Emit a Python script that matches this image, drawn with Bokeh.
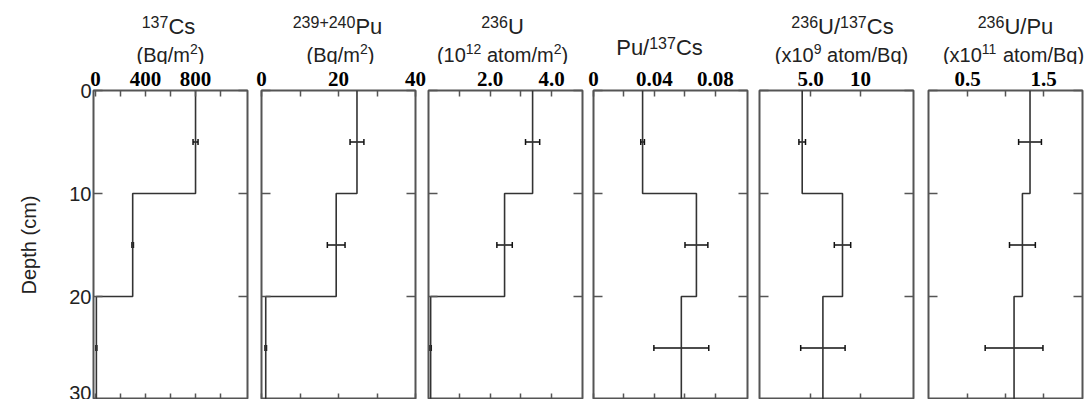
from bokeh.plotting import figure
from bokeh.layouts import row, column
from bokeh.models import (Range1d, FixedTicker, LinearAxis, Whisker,
                          ColumnDataSource, TeeHead)
from bokeh.core.properties import value
from bokeh.embed import file_html
from bokeh.resources import INLINE

# ---------------- data ----------------
depth_top = [0, 10, 20]
depth_bot = [10, 20, 30]
depth_mid = [5, 15, 25]

cs137 = [800, 298, 8]
cs137_err = [20, 6, 4]
pu = [24.8, 19.4, 1.1]
pu_err = [1.8, 2.3, 0.2]
u236 = [3.38, 2.47, 0.07]
u236_err = [0.23, 0.25, 0.02]
pu_cs = [0.0322, 0.0675, 0.0576]
pu_cs_err = [0.0012, 0.0075, 0.018]
u_cs = [4.17, 8.2, 6.24]
u_cs_err = [0.33, 0.82, 2.22]
u_pu = [1.32, 1.22, 1.11]
u_pu_err = [0.15, 0.17, 0.38]

depth_ticks = [0, 10, 20, 30]
cs_ticks = [0, 200, 400, 600, 800, 1000]
cs_labels = ["0", "", "400", "", "800", ""]
pu_ticks = [0, 10, 20, 30, 40]
pu_labels = ["0", "", "20", "", "40"]
u_ticks = [1, 2, 3, 4]
u_labels = ["", "2.0", "", "4.0"]
pucs_ticks = [0, 0.02, 0.04, 0.06, 0.08]
pucs_labels = ["0", "", "0.04", "", "0.08"]
ucs_ticks = [5, 10]
ucs_labels = ["5.0", "10"]
upu_ticks = [0.5, 1.0, 1.5]
upu_labels = ["0.5", "", "1.5"]

# ---------------- style ----------------
FW, FH = 154, 309
TITLE_H = 64
TOP = 26
FRAME_C = "#555555"
LINE_C = "#333333"
TEXT_C = "#222222"
SANS = "Liberation Sans"
SERIF = "Liberation Serif"
BASE_FIX = 0.3   # renderer places 'alphabetic' text about this many em lower

AW = {"0": .556, "1": .556, "2": .556, "3": .556, "4": .556, "5": .556, "6": .556,
      "7": .556, "8": .556, "9": .556, "C": .722, "s": .5, "P": .667, "u": .556,
      "U": .722, "(": .333, ")": .333, "B": .667, "q": .556, "/": .278, "m": .833,
      " ": .278, "a": .556, "t": .278, "o": .556, "x": .5, "+": .584}


def tw(s, size):
    return sum(AW.get(c, .556) for c in s) * size


def rich(store, cx, base, runs):
    total = sum(tw(t, s) for t, s, d in runs)
    x = cx - total / 2
    for t, s, d in runs:
        stripped = t.lstrip(" ")
        x += tw(t[:len(t) - len(stripped)], s)
        store["x"].append(x)
        store["y"].append(base - d - BASE_FIX * s)
        store["text"].append(stripped)
        store["size"].append(f"{s}px")
        x += tw(stripped, s)


def axis(ticks, labels=None, tick_in=6, font_size="0px", standoff=0):
    ax = LinearAxis(ticker=FixedTicker(ticks=ticks, minor_ticks=[]),
                    axis_line_color=None, major_tick_in=tick_in, major_tick_out=0,
                    major_tick_line_color=FRAME_C, major_tick_line_width=1.5,
                    minor_tick_line_color=None,
                    major_label_text_font_size=font_size,
                    major_label_standoff=standoff)
    if labels is not None:
        ax.major_label_overrides = {t: l for t, l in zip(ticks, labels)}
    return ax


def panel(xr, ticks, labels, vals, errs, bl, br, first=False):
    p = figure(frame_width=FW, frame_height=FH, x_range=Range1d(*xr),
               y_range=Range1d(30, 0), x_axis_location=None, y_axis_location=None,
               output_backend="svg", toolbar_location=None,
               min_border_left=bl, min_border_right=br, min_border_top=TOP,
               min_border_bottom=0)
    p.grid.visible = False
    p.outline_line_color = FRAME_C
    p.outline_line_width = 2

    top = axis(ticks, labels, tick_in=6, font_size="21px", standoff=5)
    top.major_label_text_font = SERIF
    top.major_label_text_font_style = "bold"
    top.major_label_text_color = "black"
    p.add_layout(top, "above")
    p.add_layout(axis(ticks, [""] * len(ticks), tick_in=6), "below")

    if first:
        left = axis(depth_ticks, tick_in=9, font_size="20px", standoff=2)
        left.major_label_text_font = SANS
        left.major_label_text_color = TEXT_C
        left.axis_label = "Depth (cm)"
        left.axis_label_text_font = SANS
        left.axis_label_text_font_size = "20px"
        left.axis_label_text_font_style = "normal"
        left.axis_label_text_color = TEXT_C
        left.axis_label_standoff = 26
    else:
        left = axis(depth_ticks, [""] * 4, tick_in=9)
    p.add_layout(left, "left")
    p.add_layout(axis(depth_ticks, [""] * 4, tick_in=9), "right")

    xs, ys = [], []
    for v, t, b in zip(vals, depth_top, depth_bot):
        xs += [v, v]
        ys += [t, b]
    p.line(xs, ys, line_color=LINE_C, line_width=1.6)

    src = ColumnDataSource(dict(base=depth_mid,
                                lower=[v - e for v, e in zip(vals, errs)],
                                upper=[v + e for v, e in zip(vals, errs)]))
    p.add_layout(Whisker(source=src, base="base", lower="lower", upper="upper",
                         dimension="width", line_color="#111111", line_width=1.5,
                         lower_head=TeeHead(size=6, line_color="#111111", line_width=1.5),
                         upper_head=TeeHead(size=6, line_color="#111111", line_width=1.5)))
    return p


L1, L2 = 33, 60          # baselines of the two title lines (page px)
M1, S1, R1 = 22, 16, 7
M2, S2, R2 = 20, 14, 7

specs = [
    dict(xr=(-15, 1215), ticks=cs_ticks, labels=cs_labels, vals=cs137, errs=cs137_err,
         bl=93, br=6, first=True,
         title=[(75, L1, [("137", S1, R1), ("Cs", M1, 0)]),
                (77, L2, [("(Bq/m", M2, 0), ("2", S2, R2), (")", M2, 0)])]),
    dict(xr=(0, 40), ticks=pu_ticks, labels=pu_labels, vals=pu, errs=pu_err,
         bl=8, br=11,
         title=[(76, L1, [("239+240", S1, R1), ("Pu", M1, 0)]),
                (79, L2, [("(Bq/m", M2, 0), ("2", S2, R2), (")", M2, 0)])]),
    dict(xr=(0, 5.0), ticks=u_ticks, labels=u_labels, vals=u236, errs=u236_err,
         bl=2, br=5,
         title=[(74, L1, [("236", S1, R1), ("U", M1, 0)]),
                (74, L2, [("(10", M2, 0), ("12", S2, R2), (" atom/m", M2, 0),
                          ("2", S2, R2), (")", M2, 0)])]),
    dict(xr=(0, 0.101), ticks=pucs_ticks, labels=pucs_labels, vals=pu_cs, errs=pu_cs_err,
         bl=6, br=6,
         title=[(66, 54, [("Pu/", M1, 0), ("137", S1, R1), ("Cs", M1, 0)])]),
    dict(xr=(-0.1, 15.3), ticks=ucs_ticks, labels=ucs_labels, vals=u_cs, errs=u_cs_err,
         bl=6, br=7,
         title=[(83, L1, [("236", S1, R1), ("U/", M1, 0), ("137", S1, R1), ("Cs", M1, 0)]),
                (82, L2, [("(x10", M2, 0), ("9", S2, R2), (" atom/Bq)", M2, 0)])]),
    dict(xr=(-0.015, 2.01), ticks=upu_ticks, labels=upu_labels, vals=u_pu, errs=u_pu_err,
         bl=8, br=4,
         title=[(87, L1, [("236", S1, R1), ("U/Pu", M1, 0)]),
                (85, L2, [("(x10", M2, 0), ("11", S2, R2), (" atom/Bq)", M2, 0)])]),
]

panels = []
store = {"x": [], "y": [], "text": [], "size": []}
start = 0
for s in specs:
    panels.append(panel(s["xr"], s["ticks"], s["labels"], s["vals"], s["errs"],
                        s["bl"], s["br"], first=s.get("first", False)))
    frame_left = start + s["bl"]
    for cx, base, runs in s["title"]:
        rich(store, frame_left + cx, base, runs)
    start += s["bl"] + FW + s["br"]

TOTAL_W = start
t = figure(frame_width=TOTAL_W, frame_height=TITLE_H, x_range=Range1d(0, TOTAL_W),
           y_range=Range1d(TITLE_H, 0), x_axis_location=None, y_axis_location=None,
           output_backend="svg", toolbar_location=None, min_border=0)
t.grid.visible = False
t.outline_line_color = None
t.text(x="x", y="y", text="text", text_font_size="size",
       source=ColumnDataSource(store), text_font=value(SANS),
       text_align="left", text_baseline="alphabetic", text_color=TEXT_C)

layout = column(t, row(*panels, spacing=0), spacing=0)

open("out.html", "w").write(file_html(layout, INLINE))
